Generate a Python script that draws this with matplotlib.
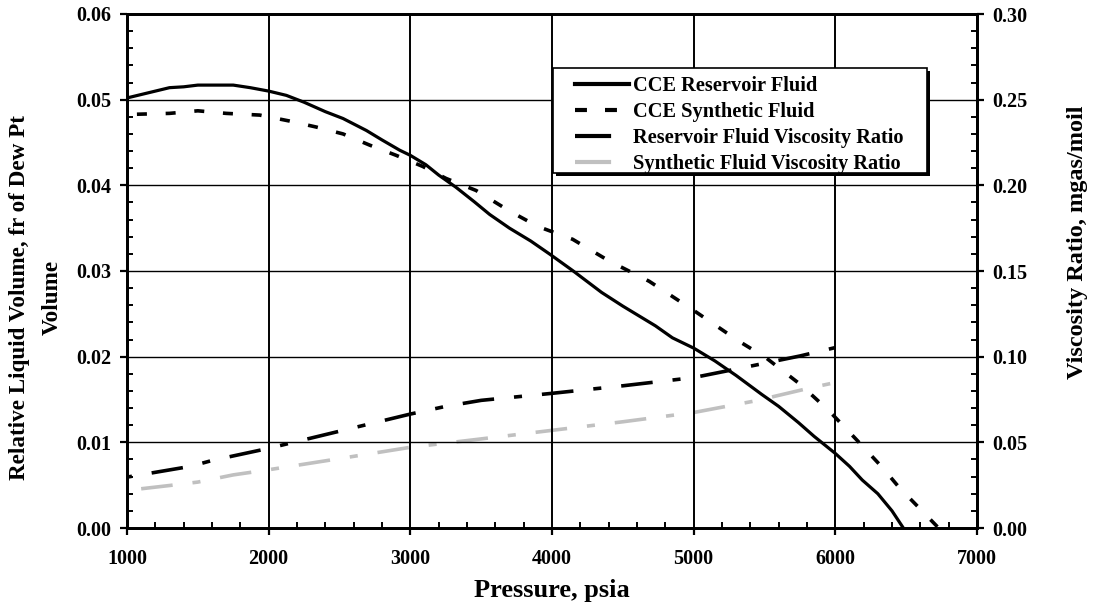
import matplotlib.pyplot as plt
from matplotlib.lines import Line2D
from matplotlib.patches import Rectangle
from matplotlib.ticker import MultipleLocator, FormatStrFormatter

# data
res_p = [1000, 1100, 1200, 1300, 1400, 1500, 1600, 1750, 1870, 2000, 2125, 2250,
         2400, 2525, 2690, 2800, 2925, 3000, 3110, 3200, 3320, 3450, 3560, 3700,
         3850, 3990, 4150, 4350, 4500, 4730, 4850, 5000, 5150, 5300, 5480, 5600,
         5740, 5850, 6000, 6100, 6190, 6300, 6400, 6480]
res_v = [0.0502, 0.0506, 0.0510, 0.0514, 0.0515, 0.0517, 0.0517, 0.0517, 0.0514,
         0.0510, 0.0505, 0.0497, 0.0486, 0.0478, 0.0464, 0.0453, 0.0441, 0.0435,
         0.0424, 0.0412, 0.0398, 0.0381, 0.0366, 0.0350, 0.0335, 0.0319, 0.0300,
         0.0275, 0.0259, 0.0236, 0.0222, 0.0210, 0.0195, 0.0178, 0.0156, 0.0142,
         0.0123, 0.0107, 0.0087, 0.0072, 0.0056, 0.0040, 0.0020, 0.0000]

syn_p = [1070, 1300, 1500, 1700, 1937, 2149, 2337, 2525, 2712, 2900, 3088, 3253,
         3464, 3700, 3900, 4146, 4400, 4686, 4991, 5320, 5508, 5750, 5954, 6150,
         6330, 6447, 6600, 6729]
syn_v = [0.0483, 0.0484, 0.0487, 0.0484, 0.0482, 0.0475, 0.0468, 0.0460, 0.0447,
         0.0435, 0.0422, 0.0408, 0.0394, 0.0370, 0.0352, 0.0337, 0.0312, 0.0288,
         0.0255, 0.0218, 0.0199, 0.0168, 0.0137, 0.0103, 0.0071, 0.0048, 0.0022,
         0.0000]

res_visc_p = [1000, 1200, 1450, 1600, 2000, 2500, 3000, 3250, 3500, 4000, 4500,
              5000, 5350, 5750, 6000]
res_visc = [0.0297, 0.0325, 0.0360, 0.0394, 0.0465, 0.0565, 0.0665, 0.0710,
            0.0745, 0.0786, 0.0830, 0.0878, 0.0936, 0.1004, 0.1053]

syn_visc_p = [1100, 1300, 1500, 1750, 2000, 2500, 3000, 3500, 4000, 4500, 5000,
              5435, 5835, 6000]
syn_visc = [0.0229, 0.0248, 0.0268, 0.0310, 0.0340, 0.0405, 0.0471, 0.0520,
            0.0570, 0.0620, 0.0674, 0.0742, 0.0820, 0.0849]

labels = ['CCE Reservoir Fluid', 'CCE Synthetic Fluid',
          'Reservoir Fluid Viscosity Ratio', 'Synthetic Fluid Viscosity Ratio']

plt.rcParams['font.family'] = ['Liberation Serif', 'DejaVu Serif']
plt.rcParams['font.weight'] = 'bold'
plt.rcParams['lines.scale_dashes'] = False

dot = (7.2, 13.5)
longshort = (22.8, 14.4, 5.8, 14.4)

fig = plt.figure(figsize=(10.95, 6.08), dpi=100)
ax = fig.add_axes([127 / 1095, 1 - 528 / 608, 850 / 1095, 514 / 608])
ax2 = ax.twinx()

ax.plot(res_p, res_v, color='black', lw=2.3)
ax.plot(syn_p, syn_v, color='black', lw=2.6, linestyle=(0, dot))
ax2.plot(res_visc_p, res_visc, color='black', lw=2.6, linestyle=(39.4, longshort))
ax2.plot(syn_visc_p, syn_visc, color='#c0c0c0', lw=2.6, linestyle=(0, longshort))

ax.set_xlim(1000, 7000)
ax.set_ylim(0, 0.06)
ax2.set_ylim(0, 0.30)

ax.xaxis.set_major_locator(MultipleLocator(1000))
ax.xaxis.set_minor_locator(MultipleLocator(200))
ax.yaxis.set_major_locator(MultipleLocator(0.01))
ax.yaxis.set_minor_locator(MultipleLocator(0.002))
ax.yaxis.set_major_formatter(FormatStrFormatter('%.2f'))
ax2.yaxis.set_major_locator(MultipleLocator(0.05))
ax2.yaxis.set_minor_locator(MultipleLocator(0.01))
ax2.yaxis.set_major_formatter(FormatStrFormatter('%.2f'))

ax.grid(True, which='major', axis='x', color='black', lw=1.4)
ax.grid(True, which='major', axis='y', color='black', lw=1.0)
ax.set_axisbelow(True)

for a in (ax, ax2):
    a.tick_params(which='major', direction='out', length=5, width=1.6,
                  labelsize=14.5, pad=6)
    a.tick_params(which='minor', direction='in', length=4, width=1.4)
    for s in a.spines.values():
        s.set_linewidth(2.0)
ax.tick_params(axis='x', which='major', pad=10)

# axis titles placed where the reference has them
ax.set_xlabel('Pressure, psia', fontsize=19, fontweight='bold')
ax.xaxis.set_label_coords(552 / 1095, 1 - 591 / 608, transform=fig.transFigure)
ax.xaxis.label.set_va('center')

ax.set_ylabel('Relative Liquid Volume, fr of Dew Pt\nVolume', fontsize=16.7,
              fontweight='bold', linespacing=1.7)
ax.yaxis.set_label_coords(36 / 1095, 1 - 297 / 608, transform=fig.transFigure)
ax.yaxis.label.set_va('center')

ax2.set_ylabel('Viscosity Ratio, mgas/moil', fontsize=17.5, fontweight='bold')
ax2.yaxis.set_label_coords(1077 / 1095, 1 - 242 / 608, transform=fig.transFigure)
ax2.yaxis.label.set_va('center')

# legend box with a hard shadow, drawn in figure pixels
lx, ly, lw_, lh = 553, 68, 374, 105
fig.patches.append(Rectangle(((lx + 3) / 1095, 1 - (ly + lh + 3) / 608),
                             lw_ / 1095, lh / 608, transform=fig.transFigure,
                             facecolor='black', edgecolor='none', zorder=8))
fig.patches.append(Rectangle((lx / 1095, 1 - (ly + lh) / 608), lw_ / 1095,
                             lh / 608, transform=fig.transFigure,
                             facecolor='white', edgecolor='black', lw=1.2,
                             zorder=9))

handles = [Line2D([], [], color='black', lw=3.0),
           Line2D([], [], color='black', lw=3.0, linestyle=(0, (8.6, 13))),
           Line2D([], [], color='black', lw=3.0, linestyle=(0, (26, 20))),
           Line2D([], [], color='#c0c0c0', lw=3.0, linestyle=(0, (26, 20)))]
leg = fig.legend(handles, labels, loc='upper left',
                 bbox_to_anchor=(575 / 1095, 1 - 76 / 608),
                 bbox_transform=fig.transFigure, borderaxespad=0, borderpad=0,
                 fontsize=14.7, frameon=False, labelspacing=0.3,
                 handlelength=2.65, handletextpad=0.2)
leg.set_zorder(10)

ax.set_zorder(ax2.get_zorder() + 1)
ax.patch.set_visible(False)

fig.savefig('out.png', dpi=100)
